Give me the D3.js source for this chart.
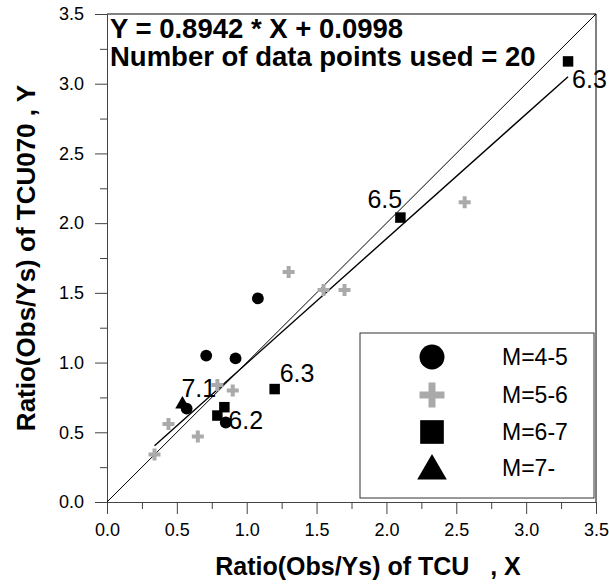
<!DOCTYPE html>
<html>
<head>
<meta charset="utf-8">
<script src="https://cdn.jsdelivr.net/npm/d3@7"></script>
<style>
  html, body { margin: 0; padding: 0; background: #fff; }
  svg { display: block; font-family: "Liberation Sans", Arial, Helvetica, sans-serif; }
</style>
</head>
<body>
<svg id="chart" width="609" height="585"></svg>
<script>
// ---- data ----
const groupNames = ["M=4-5", "M=5-6", "M=6-7", "M=7-"];
const circleX = [1.08, 0.71, 0.92, 0.57, 0.85];
const circleY = [1.46, 1.05, 1.03, 0.67, 0.57];
const plusX = [2.56, 1.30, 1.55, 1.70, 0.79, 0.90, 0.44, 0.65, 0.34];
const plusY = [2.15, 1.65, 1.52, 1.52, 0.84, 0.80, 0.56, 0.47, 0.34];
const squareX = [3.30, 2.10, 1.20, 0.84, 0.79];
const squareY = [3.16, 2.04, 0.81, 0.68, 0.62];
const triangleX = [0.54];
const triangleY = [0.70];
const pointLabels = [
  { text: "6.3", x: 3.30, y: 3.16, dx: 4, dy: 27 },
  { text: "6.5", x: 2.10, y: 2.04, dx: -33, dy: -10 },
  { text: "6.3", x: 1.20, y: 0.81, dx: 5, dy: -7 },
  { text: "7.1", x: 0.54, y: 0.70, dx: -1, dy: -7 },
  { text: "6.2", x: 0.79, y: 0.62, dx: 11, dy: 13 }
];
const slope = 0.8942, intercept = 0.0998;
const fitRange = [0.34, 3.30];
const tickValues = [0, 0.5, 1, 1.5, 2, 2.5, 3, 3.5];
const minorTicks = [0.25, 0.75, 1.25, 1.75, 2.25, 2.75, 3.25];
const equationLines = ["Y = 0.8942 * X + 0.0998", "Number of data points used = 20"];
const xTitle = "Ratio(Obs/Ys) of TCU\u00A0\u00A0\u00A0, X";
const yTitle = "Ratio(Obs/Ys) of TCU070 , Y";

// ---- layout ----
const svg = d3.select("#chart");
const x = d3.scaleLinear().domain([0, 3.5]).range([107, 596]);
const y = d3.scaleLinear().domain([0, 3.5]).range([502, 14]);
const axisColor = "#444";
const plusColor = "#aaaaaa";

// minor ticks
svg.append("g").attr("transform", `translate(0,${y(0)})`)
  .call(d3.axisBottom(x).tickValues(minorTicks).tickSize(7).tickFormat(""))
  .call(g => g.select(".domain").remove())
  .call(g => g.selectAll("line").attr("stroke", axisColor));
svg.append("g").attr("transform", `translate(${x(0)},0)`)
  .call(d3.axisLeft(y).tickValues(minorTicks).tickSize(7).tickFormat(""))
  .call(g => g.select(".domain").remove())
  .call(g => g.selectAll("line").attr("stroke", axisColor));

// major axes
const xAxis = svg.append("g").attr("transform", `translate(0,${y(0)})`)
  .call(d3.axisBottom(x).tickValues(tickValues).tickSize(12).tickSizeOuter(0).tickPadding(9).tickFormat(d3.format(".1f")));
const yAxis = svg.append("g").attr("transform", `translate(${x(0)},0)`)
  .call(d3.axisLeft(y).tickValues(tickValues).tickSize(12).tickSizeOuter(0).tickPadding(11).tickFormat(d3.format(".1f")));
[xAxis, yAxis].forEach(g => {
  g.select(".domain").attr("stroke", axisColor);
  g.selectAll("line").attr("stroke", axisColor);
  g.selectAll("text").attr("font-size", 18).attr("fill", "#000")
    .attr("font-family", "'Liberation Sans', Arial, sans-serif");
});

// frame top & right
svg.append("line").attr("x1", x(0)).attr("x2", x(3.5)).attr("y1", y(3.5)).attr("y2", y(3.5)).attr("stroke", "#000");
svg.append("line").attr("x1", x(3.5)).attr("x2", x(3.5)).attr("y1", y(3.5)).attr("y2", y(0)).attr("stroke", "#000");

// 1:1 line
svg.append("line").attr("x1", x(0)).attr("y1", y(0)).attr("x2", x(3.5)).attr("y2", y(3.5))
  .attr("stroke", "#000").attr("stroke-width", 1);
// regression line
svg.append("line")
  .attr("x1", x(fitRange[0])).attr("y1", y(slope * fitRange[0] + intercept))
  .attr("x2", x(fitRange[1])).attr("y2", y(slope * fitRange[1] + intercept))
  .attr("stroke", "#000").attr("stroke-width", 1.4);

// markers
const sym = (type, size) => d3.symbol().type(type).size(size)();
const plusPath = (s, t) => `M${-t/2},${-s/2}h${t}v${(s-t)/2}h${(s-t)/2}v${t}h${-(s-t)/2}v${(s-t)/2}h${-t}v${-(s-t)/2}h${-(s-t)/2}v${-t}h${(s-t)/2}Z`;

svg.append("g").selectAll("path").data(d3.range(plusX.length)).join("path")
  .attr("d", plusPath(12, 4)).attr("fill", plusColor)
  .attr("transform", i => `translate(${x(plusX[i])},${y(plusY[i])})`);
svg.append("g").selectAll("path").data(d3.range(circleX.length)).join("path")
  .attr("d", sym(d3.symbolCircle, 110)).attr("fill", "#000")
  .attr("transform", i => `translate(${x(circleX[i])},${y(circleY[i])})`);
svg.append("g").selectAll("path").data(d3.range(squareX.length)).join("path")
  .attr("d", sym(d3.symbolSquare, 110)).attr("fill", "#000")
  .attr("transform", i => `translate(${x(squareX[i])},${y(squareY[i])})`);
svg.append("g").selectAll("path").data(d3.range(triangleX.length)).join("path")
  .attr("d", sym(d3.symbolTriangle, 90)).attr("fill", "#000")
  .attr("transform", i => `translate(${x(triangleX[i])},${y(triangleY[i])})`);

// point labels
svg.append("g").selectAll("text").data(pointLabels).join("text")
  .attr("x", d => x(d.x) + d.dx).attr("y", d => y(d.y) + d.dy)
  .attr("font-size", 25).attr("fill", "#000").text(d => d.text);

// equation text
svg.append("g").selectAll("text").data(equationLines).join("text")
  .attr("x", 110).attr("y", (d, i) => 38 + i * 28)
  .attr("font-size", 27.5).attr("font-weight", "bold").text(d => d);

// legend
const lg = svg.append("g");
lg.append("rect").attr("x", 360).attr("y", 333).attr("width", 234).attr("height", 165)
  .attr("fill", "#fff").attr("stroke", "#333").attr("stroke-width", 1);
const rowY = [357, 395, 432, 468];
const legendSymbols = [
  sym(d3.symbolCircle, 490),
  plusPath(25, 7),
  sym(d3.symbolSquare, 560),
  sym(d3.symbolTriangle, 380)
];
const legendFill = ["#000", plusColor, "#000", "#000"];
groupNames.forEach((name, i) => {
  lg.append("path").attr("d", legendSymbols[i]).attr("fill", legendFill[i])
    .attr("transform", `translate(432,${rowY[i] + (i === 3 ? 3 : 0)})`);
  lg.append("text").attr("x", 502).attr("y", rowY[i] + 8).attr("font-size", 23).text(name);
});

// axis titles
svg.append("text").attr("x", 368).attr("y", 575).attr("text-anchor", "middle")
  .attr("font-size", 25).attr("font-weight", "bold").text(xTitle);
svg.append("text").attr("transform", `translate(35,${(y(0) + y(3.5)) / 2}) rotate(-90)`)
  .attr("text-anchor", "middle").attr("font-size", 26).attr("font-weight", "bold").text(yTitle);
</script>
</body>
</html>
